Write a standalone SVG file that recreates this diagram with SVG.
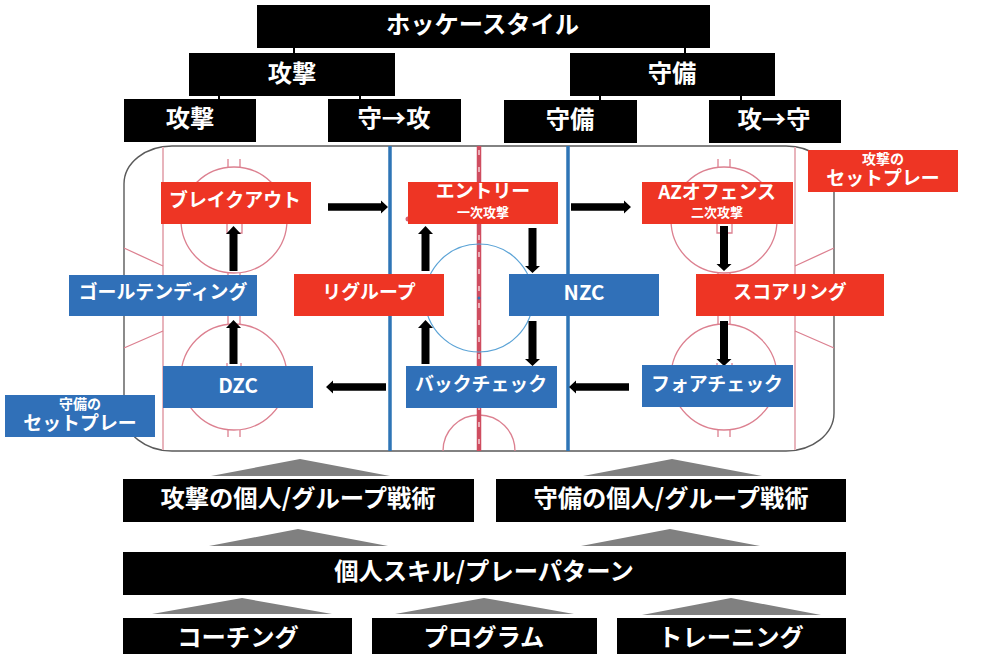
<svg xmlns="http://www.w3.org/2000/svg" width="983" height="654" viewBox="0 0 983 654">
<style>
text{font-family:"Noto Sans CJK JP","Noto Sans",sans-serif;font-weight:700;fill:#fff;text-anchor:middle}
.t24{font-size:24.3px}.t18{font-size:18.9px}.t20{font-size:20.5px}.t13{font-size:13px}.t14{font-size:14px}
.k{fill:#000}.r{fill:#ee3524}.b{fill:#3070b8}.g{fill:#808080}
.ri{fill:none;stroke:#dc8090;stroke-width:1.3}
.gl{fill:none;stroke:#e8b4bc;stroke-width:2}
.tick{fill:none;stroke:#000;stroke-width:2}
</style>
<g id="rink">
<rect x="124" y="146" width="710" height="305" rx="48" ry="38" fill="#fff" stroke="#5a5a5a" stroke-width="1.4"/>
<path class="gl" d="M163 147V450M795 147V450"/>
<path class="ri" d="M124 248L163 266M124 348L163 331M795 266L834 248M795 331L834 348"/>
<circle class="ri" cx="234" cy="220" r="53"/><circle class="ri" cx="234" cy="377" r="53"/>
<circle class="ri" cx="724" cy="220" r="53"/><circle class="ri" cx="724" cy="377" r="53"/>
<path class="ri" d="M228 159V167M240 159V167M228 273V280M240 273V280M227 224V233H242V224M228 316V324M240 316V324M227 363V367M241 363V367M228 430V437M240 430V437"/>
<path class="ri" d="M718 159V167M730 159V167M718 273V280M730 273V280M717 224V233H732V224M718 316V324M730 316V324M717 363V367M732 363V367M718 430V437M730 430V437"/>
<path class="ri" d="M443 451A36 36 0 0 1 515 451"/>
<circle cx="408" cy="219" r="2.5" fill="#d9606e"/>
<path d="M390 146V451M568 146V451" fill="none" stroke="#2e75b6" stroke-width="3.5"/>
<path d="M479 146V451" fill="none" stroke="#cf4d60" stroke-width="4.5"/>
<path d="M479 150V451" fill="none" stroke="#f0c8ce" stroke-width="1.6" stroke-dasharray="5 12"/>
<circle cx="479" cy="298" r="54" fill="none" stroke="#5ba3d6" stroke-width="1.2"/>
<circle cx="479" cy="298" r="1.5" fill="#2e75b6"/>
</g>
<g id="connectors">
<path class="tick" d="M294 48V53M685 48V53M219 96V99M360 96V99M600 96V100M741 96V100"/>
<polygon class="k" points="328,203.2 381,203.2 381,200.5 388,207 381,213.5 381,210.8 328,210.8"/>
<polygon class="k" points="571,203.2 624,203.2 624,200.5 631,207 624,213.5 624,210.8 571,210.8"/>
<polygon class="k" points="629,383.2 576,383.2 576,380.5 569,387 576,393.5 576,390.8 629,390.8"/>
<polygon class="k" points="386,383.2 333,383.2 333,380.5 326,387 333,393.5 333,390.8 386,390.8"/>
<polygon class="k" points="229.5,271 229.5,234 226,234 233.5,226 241,234 237.5,234 237.5,271"/>
<polygon class="k" points="229.5,364 229.5,328 226,328 233.5,320 241,328 237.5,328 237.5,364"/>
<polygon class="k" points="421.5,271 421.5,234 418,234 425.5,226 433,234 429.5,234 429.5,271"/>
<polygon class="k" points="421.5,364 421.5,328 418,328 425.5,320 433,328 429.5,328 429.5,364"/>
<polygon class="k" points="528.5,228 528.5,266 525,266 532.5,273 540,266 536.5,266 536.5,228"/>
<polygon class="k" points="528.5,321 528.5,359 525,359 532.5,366 540,359 536.5,359 536.5,321"/>
<polygon class="k" points="720,226 720,264 716.5,264 724,271 731.5,264 728,264 728,226"/>
<polygon class="k" points="720,321 720,359 716.5,359 724,366 731.5,359 728,359 728,321"/>
<polygon class="g" points="211,476 300,459 390,476"/>
<polygon class="g" points="583,476 672,459 762,476"/>
<polygon class="g" points="209,546 298,529 388,546"/>
<polygon class="g" points="581,546 670,529 760,546"/>
<polygon class="g" points="152,614 242,598 332,614"/>
<polygon class="g" points="395,614 484,598 574,614"/>
<polygon class="g" points="642,615 731,598 821,615"/>
</g>
<g id="n-style"><rect class="k" x="257" y="5" width="453" height="43"/><text class="t24" x="482.500" y="33">ホッケースタイル</text></g>
<g id="n-attack"><rect class="k" x="189" y="53" width="206" height="43"/><text class="t24" x="292" y="82">攻撃</text></g>
<g id="n-defense"><rect class="k" x="570" y="53" width="205" height="43"/><text class="t24" x="672" y="82">守備</text></g>
<g id="n-attack2"><rect class="k" x="124" y="99" width="132" height="43"/><text class="t24" x="190" y="127">攻撃</text></g>
<g id="n-d2a"><rect class="k" x="328" y="99" width="133" height="43"/><text class="t24" x="394" y="127">守→攻</text></g>
<g id="n-defense2"><rect class="k" x="504" y="100" width="133" height="43"/><text class="t24" x="570" y="128">守備</text></g>
<g id="n-a2d"><rect class="k" x="709" y="100" width="132" height="43"/><text class="t24" x="774" y="128">攻→守</text></g>
<g id="n-breakout"><rect class="r" x="161" y="182" width="150" height="42"/><text class="t18" x="235" y="207">ブレイクアウト</text></g>
<g id="n-entry"><rect class="r" x="408" y="182" width="150" height="42"/><text class="t18" x="483" y="198">エントリー</text><text class="t13" x="483" y="217">一次攻撃</text></g>
<g id="n-az"><rect class="r" x="642" y="182" width="151" height="42"/><text class="t18" x="717" y="199">AZオフェンス</text><text class="t13" x="717" y="217">二次攻撃</text></g>
<g id="n-setoff"><rect class="r" x="808" y="150" width="150" height="42"/><text class="t14" x="883" y="164">攻撃の</text><text class="t18" x="883" y="185">セットプレー</text></g>
<g id="n-goalie"><rect class="b" x="69" y="275" width="188" height="41"/><text class="t18" x="163" y="299">ゴールテンディング</text></g>
<g id="n-regroup"><rect class="r" x="294" y="274" width="150" height="42"/><text class="t18" x="369" y="299">リグループ</text></g>
<g id="n-nzc"><rect class="b" x="509" y="274" width="150" height="42"/><text class="t20" x="584" y="300">NZC</text></g>
<g id="n-scoring"><rect class="r" x="696" y="274" width="188" height="42"/><text class="t18" x="790" y="299">スコアリング</text></g>
<g id="n-dzc"><rect class="b" x="163" y="366" width="150" height="42"/><text class="t20" x="238" y="393">DZC</text></g>
<g id="n-backcheck"><rect class="b" x="406" y="366" width="151" height="42"/><text class="t18" x="481" y="391">バックチェック</text></g>
<g id="n-forecheck"><rect class="b" x="642" y="365" width="151" height="42"/><text class="t18" x="717" y="391">フォアチェック</text></g>
<g id="n-setdef"><rect class="b" x="5" y="395" width="150" height="42"/><text class="t14" x="80" y="409">守備の</text><text class="t18" x="80" y="430">セットプレー</text></g>
<g id="n-attack-ind"><rect class="k" x="123" y="479" width="351" height="43"/><text class="t24" x="298" y="507">攻撃の個人/グループ戦術</text></g>
<g id="n-def-ind"><rect class="k" x="496" y="479" width="350" height="43"/><text class="t24" x="671" y="507">守備の個人/グループ戦術</text></g>
<g id="n-skill"><rect class="k" x="123" y="552" width="723" height="43"/><text class="t24" x="484" y="580">個人スキル/プレーパターン</text></g>
<g id="n-coach"><rect class="k" x="123" y="618" width="229" height="36"/><text class="t24" x="238" y="646">コーチング</text></g>
<g id="n-program"><rect class="k" x="372" y="618" width="225" height="36"/><text class="t24" x="484" y="646">プログラム</text></g>
<g id="n-train"><rect class="k" x="617" y="618" width="229" height="36"/><text class="t24" x="731" y="646">トレーニング</text></g>
</svg>
